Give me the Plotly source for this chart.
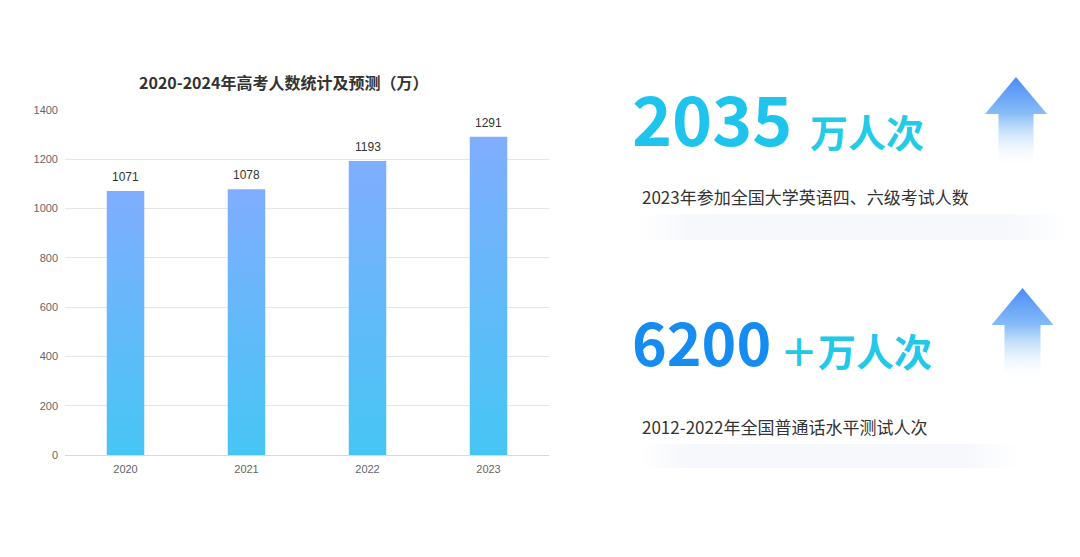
import plotly.graph_objects as go

years = ["2020", "2021", "2022", "2023"]
examinees = [1071, 1078, 1193, 1291]
y_ticks = [0, 200, 400, 600, 800, 1000, 1200, 1400]

chart_title = "2020-2024年高考人数统计及预测（万）"
stat_numbers = ["2035", "6200"]
stat_units = ["万人次", "＋万人次"]
stat_notes = ["2023年参加全国大学英语四、六级考试人数", "2012-2022年全国普通话水平测试人次"]

W, H = 1080, 557
FONT = "Noto Sans CJK SC"
NUM_FONT = "Liberation Sans, Noto Sans CJK SC"
BAR_HALF = 0.155

fig = go.Figure()

# bars as filled boxes so they can carry a vertical gradient
for i, v in enumerate(examinees):
    fig.add_trace(go.Scatter(
        x=[i - BAR_HALF, i + BAR_HALF, i + BAR_HALF, i - BAR_HALF, i - BAR_HALF],
        y=[0, 0, v, v, 0],
        mode="lines", line=dict(width=0, color="#6AB6FB"), fill="toself",
        fillgradient=dict(type="vertical", colorscale=[[0, "#46C6F4"], [1, "#80ADFF"]],
                          start=0, stop=v),
        hoverinfo="skip", showlegend=False,
    ))

annotations = []
for i, v in enumerate(examinees):
    annotations.append(dict(x=i, y=v, xref="x", yref="y", text=str(v), showarrow=False,
                            yshift=14, font=dict(family=NUM_FONT, size=12, color="#333333")))

# decoration layer in pixel coordinates (x2/y2 cover the whole page)
def arrow(tip_x, tip_y, head_y, head_half, stem_half, bottom):
    xs = [tip_x, tip_x + head_half, tip_x + stem_half, tip_x + stem_half,
          tip_x - stem_half, tip_x - stem_half, tip_x - head_half, tip_x]
    ys = [tip_y, head_y, head_y, bottom, bottom, head_y, head_y, tip_y]
    fig.add_trace(go.Scatter(
        x=xs, y=ys, xaxis="x2", yaxis="y2", mode="lines",
        line=dict(width=0, color="#7AB4F5"), fill="toself",
        fillgradient=dict(type="vertical",
                          colorscale=[[0, "#4C8DF6"], [0.4, "#86BCF6"], [1, "rgba(255,255,255,0)"]],
                          start=tip_y, stop=bottom),
        hoverinfo="skip", showlegend=False,
    ))

def shadow(x0, x1, y0, y1):
    fig.add_trace(go.Scatter(
        x=[x0, x1, x1, x0, x0], y=[y0, y0, y1, y1, y0], xaxis="x2", yaxis="y2",
        mode="lines", line=dict(width=0, color="rgba(0,0,0,0)"), fill="toself",
        fillgradient=dict(type="horizontal",
                          colorscale=[[0, "rgba(238,242,249,0)"], [0.12, "rgba(238,242,249,0.55)"],
                                      [0.85, "rgba(238,242,249,0.55)"], [1, "rgba(238,242,249,0)"]],
                          start=x0, stop=x1),
        hoverinfo="skip", showlegend=False,
    ))

arrow(1016, 77, 114, 31, 17.5, 168)
arrow(1022.5, 288, 325, 31, 18, 381)
shadow(640, 1070, 214, 240)
shadow(640, 1020, 444, 468)

annotations.append(dict(x=283, y=82, xref="x2", yref="y2", text="<b>" + chart_title + "</b>",
                        showarrow=False, font=dict(family=FONT, size=16, color="#333333")))

# big figures on the right
annotations += [
    dict(x=630, y=116, xref="x2", yref="y2", xanchor="left", text="<b>" + stat_numbers[0] + "</b>",
         showarrow=False, font=dict(family=FONT, size=68, color="#1FC4EC")),
    dict(x=808, y=130, xref="x2", yref="y2", xanchor="left", text="<b>" + stat_units[0] + "</b>",
         showarrow=False, font=dict(family=FONT, size=38, color="#22CBE6")),
    dict(x=640, y=196, xref="x2", yref="y2", xanchor="left", text=stat_notes[0],
         showarrow=False, font=dict(family=FONT, size=17, color="#333333")),
    dict(x=630, y=340, xref="x2", yref="y2", xanchor="left", text="<b>" + stat_numbers[1] + "</b>",
         showarrow=False, font=dict(family=FONT, size=59, color="#168CF0")),
    dict(x=778, y=349, xref="x2", yref="y2", xanchor="left", text="<b>" + stat_units[1] + "</b>",
         showarrow=False, font=dict(family=FONT, size=38, color="#22C8E8")),
    dict(x=640, y=426, xref="x2", yref="y2", xanchor="left", text=stat_notes[1],
         showarrow=False, font=dict(family=FONT, size=17, color="#333333")),
]

fig.update_layout(
    width=W, height=H,
    margin=dict(l=0, r=0, t=0, b=0, autoexpand=False),
    paper_bgcolor="white", plot_bgcolor="rgba(0,0,0,0)",
    hovermode=False,
    font=dict(family=FONT),
    xaxis=dict(domain=[65 / W, 549 / W], range=[-0.5, 3.5], tickvals=list(range(len(years))),
               ticktext=years, showgrid=False, zeroline=False, showline=True,
               linecolor="#D9D9D9", linewidth=1, ticks="", ticklabelstandoff=4,
               tickfont=dict(family=NUM_FONT, size=11, color="#666666"),
               automargin=False, fixedrange=True),
    yaxis=dict(domain=[(H - 455) / H, (H - 110) / H], range=[0, 1400], tickvals=y_ticks,
               showgrid=True, gridcolor="#E6E6E6", zeroline=False, showline=False,
               ticks="", ticklabelstandoff=6, tickfont=dict(family=NUM_FONT, size=11, color="#666666"),
               automargin=False, fixedrange=True),
    xaxis2=dict(domain=[0, 1], range=[0, W], visible=False, anchor="y2",
                automargin=False, fixedrange=True),
    yaxis2=dict(domain=[0, 1], range=[H, 0], visible=False, anchor="x2",
                automargin=False, fixedrange=True),
    annotations=annotations,
)

# the page body has a default 8px margin; drop it so the figure sits at the window corner
fig.write_html("out.html", config={"displayModeBar": False},
               post_script="document.body.style.margin='0';")
